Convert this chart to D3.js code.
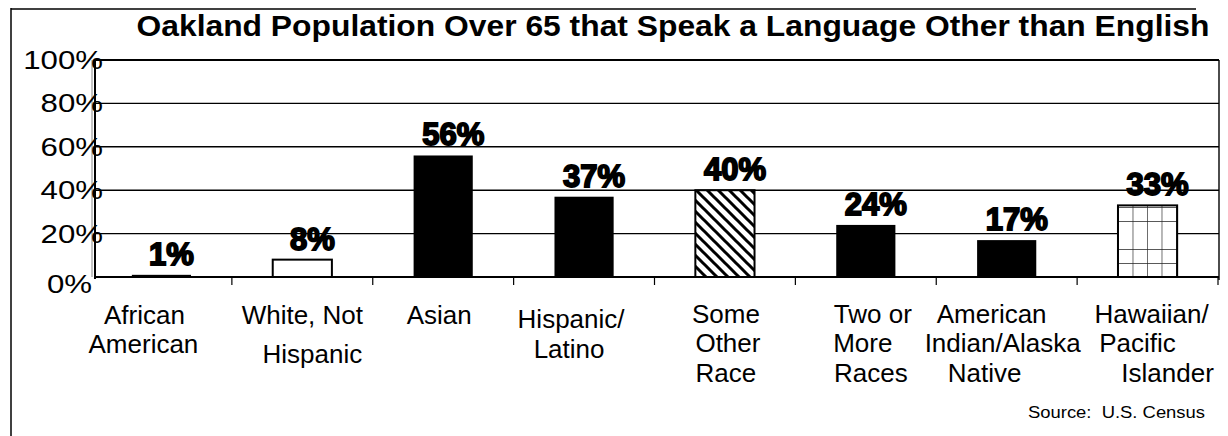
<!DOCTYPE html>
<html>
<head>
<meta charset="utf-8">
<script src="https://cdn.jsdelivr.net/npm/d3@7"></script>
<style>
  html, body { margin: 0; padding: 0; background: #fff; }
  svg { display: block; }
  text { font-family: "Liberation Sans", Arial, sans-serif; fill: #000; }
</style>
</head>
<body>
<svg id="chart" width="1228" height="436"></svg>
<script>
// ---- data ----
const title = "Oakland Population Over 65 that Speak a Language Other than English";
const categories = [
  ["African", "American"],
  ["White, Not", "Hispanic"],
  ["Asian"],
  ["Hispanic/", "Latino"],
  ["Some", "Other", "Race"],
  ["Two or", "More", "Races"],
  ["American", "Indian/Alaska", "Native"],
  ["Hawaiian/", "Pacific", "Islander"]
];
const values = [1, 8, 56, 37, 40, 24, 17, 33];
const yTicks = [0, 20, 40, 60, 80, 100];
const yTickLabels = ["0%", "20%", "40%", "60%", "80%", "100%"];
const source = "Source:\u00a0 U.S. Census";

// ---- styling / layout (not data) ----
const barFills = ["solid", "white", "solid", "solid", "hatch", "solid", "solid", "grid"];
const labelDx = [[-17, -18], [0, 10], [-4], [-13, -15], [1, 3, 1], [7, -3, 5], [-15, -4, -22], [4, -10, 20]];
const labelDy = [[47, 76], [47, 86], [47], [51, 81], [46, 75, 105], [46, 75, 105], [46, 75, 105], [46, 75, 105]];

const svg = d3.select("#chart");
const W = 1228, H = 436;
const plotL = 95, plotR = 1219, plotT = 60, plotB = 277;

// stretch text horizontally (the reference scan is wider than the font)
function stretch(sel, factor) {
  sel.each(function () {
    const len = this.getComputedTextLength();
    d3.select(this).attr("textLength", len * factor).attr("lengthAdjust", "spacingAndGlyphs");
  });
}

// patterns
const defs = svg.append("defs");
const hatch = defs.append("pattern").attr("id", "hatch")
  .attr("patternUnits", "userSpaceOnUse").attr("width", 11).attr("height", 11);
hatch.append("rect").attr("width", 11).attr("height", 11).attr("fill", "#fff");
hatch.append("path").attr("d", "M0,0L11,11M-2,9L2,13M9,-2L13,2")
  .attr("stroke", "#000").attr("stroke-width", 3);
const grid = defs.append("pattern").attr("id", "grid")
  .attr("patternUnits", "userSpaceOnUse").attr("width", 14.5).attr("height", 14)
  .attr("x", 1118).attr("y", 277);
grid.append("rect").attr("width", 14.5).attr("height", 14).attr("fill", "#fff");
grid.append("path").attr("d", "M0,0H14.5M0,0V14").attr("stroke", "#222").attr("stroke-width", 1.3);

// outer frame
svg.append("line").attr("x1", 11).attr("x2", 11).attr("y1", 8).attr("y2", H)
  .attr("stroke", "#000").attr("stroke-width", 1.5);
svg.append("line").attr("x1", 11).attr("x2", 1196).attr("y1", 9).attr("y2", 9)
  .attr("stroke", "#000").attr("stroke-width", 1.5);

// scales
const x = d3.scaleBand().domain(d3.range(categories.length))
  .range([91, 1218]).paddingInner(0.58).paddingOuter(0.29);
const y = d3.scaleLinear().domain([0, 100]).range([plotB, plotT]);

// gridlines
svg.append("g").selectAll("line").data(yTicks).join("line")
  .attr("x1", plotL).attr("x2", plotR)
  .attr("y1", d => y(d)).attr("y2", d => y(d))
  .attr("stroke", "#000").attr("stroke-width", d => (d === 100 || d === 0) ? 2 : 1.4);

// right border of plot
svg.append("line").attr("x1", plotR).attr("x2", plotR).attr("y1", plotT).attr("y2", plotB + 3)
  .attr("stroke", "#000").attr("stroke-width", 1.4);

// x axis ticks at category boundaries
const step = x.step();
const boundaries = d3.range(1, categories.length + 1).map(i => x.range()[0] + i * step);
svg.append("g").selectAll("line").data(boundaries).join("line")
  .attr("x1", d => d).attr("x2", d => d)
  .attr("y1", plotB).attr("y2", plotB + 8)
  .attr("stroke", "#000").attr("stroke-width", 1.2);

// y axis
svg.append("line").attr("x1", plotL - 3).attr("x2", plotL - 3).attr("y1", plotT).attr("y2", plotB)
  .attr("stroke", "#888").attr("stroke-width", 1);
svg.append("line").attr("x1", plotL).attr("x2", plotL).attr("y1", plotT).attr("y2", plotB + 2)
  .attr("stroke", "#000").attr("stroke-width", 2);

// y tick labels
const yLab = svg.append("g").selectAll("text").data(yTicks).join("text")
  .attr("x", d => d === 0 ? 92 : 103)
  .attr("y", d => y(d) + (d === 0 ? 16 : 9))
  .attr("text-anchor", "end")
  .attr("font-size", 26)
  .text((d, i) => yTickLabels[i]);
stretch(yLab, 1.2);

// bars
svg.append("g").selectAll("rect").data(values).join("rect")
  .attr("x", (d, i) => x(i))
  .attr("width", x.bandwidth())
  .attr("y", d => y(d))
  .attr("height", d => y(0) - y(d))
  .attr("fill", (d, i) => barFills[i] === "solid" ? "#000" : barFills[i] === "white" ? "#fff" : `url(#${barFills[i]})`)
  .attr("stroke", "#000")
  .attr("stroke-width", (d, i) => barFills[i] === "solid" ? 0 : 2);

// value labels
svg.append("g").selectAll("text").data(values).join("text")
  .attr("x", (d, i) => x(i) + x.bandwidth() / 2 + 10)
  .attr("y", d => y(d) - 10)
  .attr("text-anchor", "middle")
  .attr("font-size", 31)
  .attr("font-weight", "bold")
  .attr("stroke", "#000")
  .attr("stroke-width", 1.8)
  .text(d => d + "%");

// category labels
const catG = svg.append("g");
categories.forEach((lines, i) => {
  const cx = x(i) + x.bandwidth() / 2;
  lines.forEach((ln, j) => {
    catG.append("text")
      .attr("x", cx + labelDx[i][j])
      .attr("y", y(0) + labelDy[i][j])
      .attr("text-anchor", "middle")
      .attr("font-size", 26)
      .text(ln);
  });
});

// title
svg.append("text").attr("x", 673).attr("y", 36)
  .attr("text-anchor", "middle")
  .attr("font-size", 29).attr("font-weight", "bold")
  .attr("textLength", 1073).attr("lengthAdjust", "spacingAndGlyphs")
  .text(title);

// source
svg.append("text").attr("x", 1205).attr("y", 418)
  .attr("text-anchor", "end")
  .attr("font-size", 16)
  .attr("textLength", 177).attr("lengthAdjust", "spacingAndGlyphs")
  .text(source);
</script>
</body>
</html>
